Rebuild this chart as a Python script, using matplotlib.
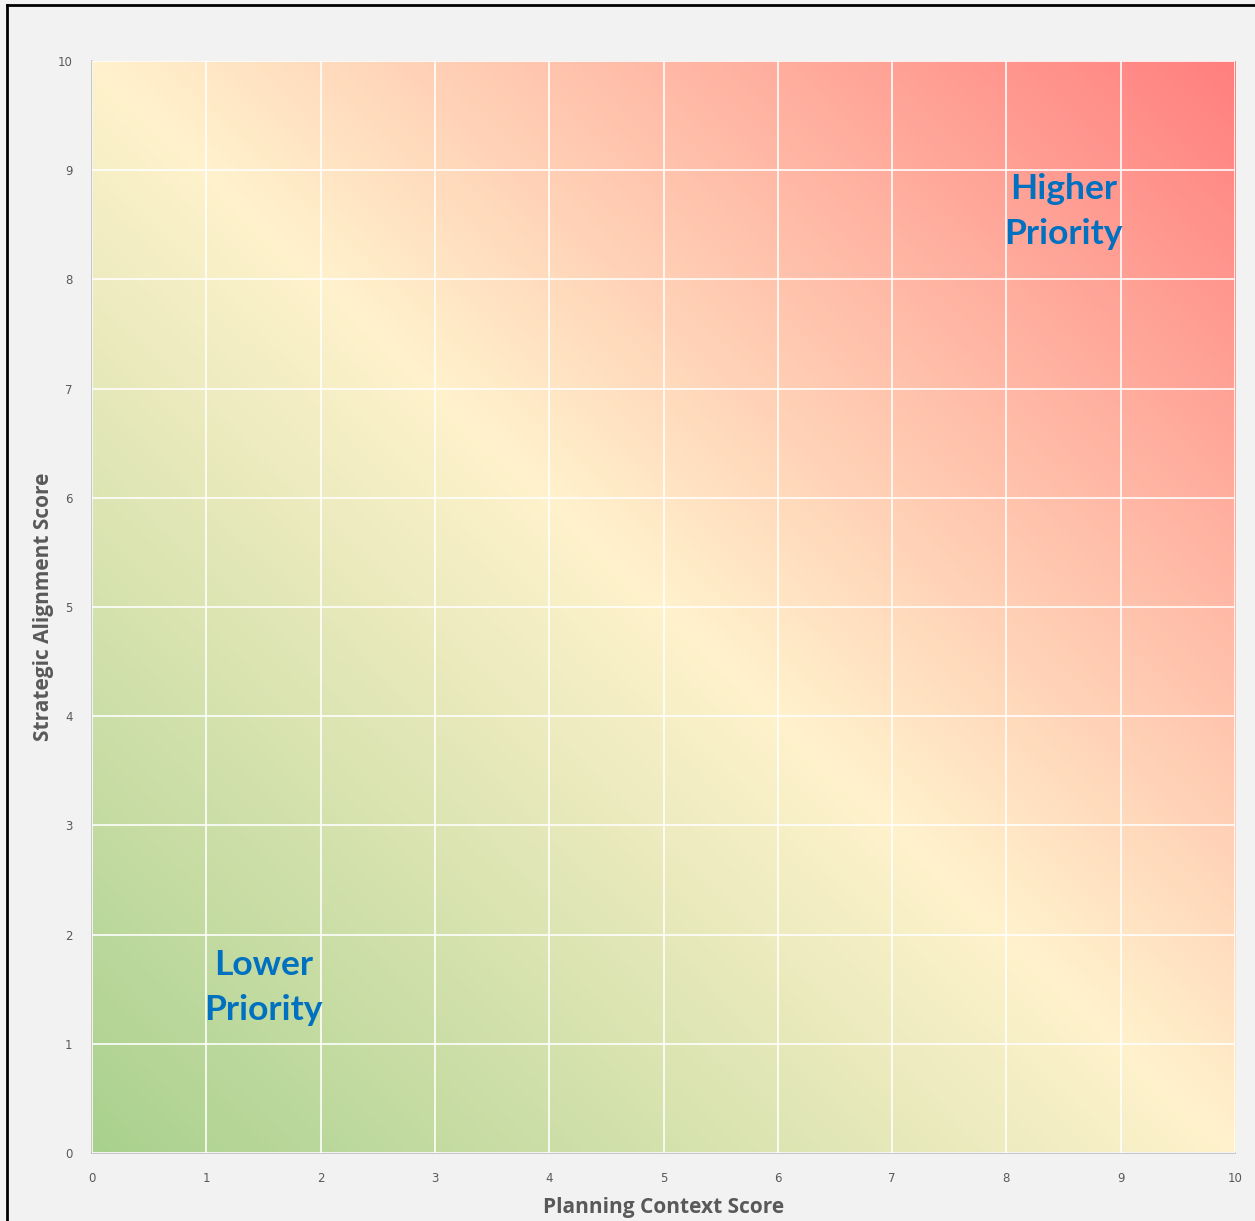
import matplotlib.pyplot as plt
import numpy as np
from matplotlib.colors import LinearSegmentedColormap
from matplotlib.lines import Line2D

# axis ranges and ticks
x_ticks = [0, 1, 2, 3, 4, 5, 6, 7, 8, 9, 10]
y_ticks = [0, 1, 2, 3, 4, 5, 6, 7, 8, 9, 10]
x_label = "Planning Context Score"
y_label = "Strategic Alignment Score"

# gradient stops (low -> mid -> high priority)
grad_colors = ["#A9D18E", "#FFF2CC", "#FF7F7F"]

# corner annotations
labels = ["Higher\nPriority", "Lower\nPriority"]
label_x = [8.5, 1.5]
label_y = [8.62, 1.52]

fig = plt.figure(figsize=(12.55, 12.21), dpi=100, facecolor="#F2F2F2")
ax = fig.add_axes([0.0733, 0.0557, 0.9108, 0.8943])
ax.set_facecolor("#F2F2F2")

cmap = LinearSegmentedColormap.from_list("prio", grad_colors)
gx, gy = np.meshgrid(np.linspace(0, 10, 400), np.linspace(0, 10, 400))
ax.imshow(gx + gy, cmap=cmap, origin="lower", extent=[0, 10, 0, 10],
          vmin=0, vmax=20, aspect="auto", interpolation="bilinear", zorder=0)

ax.set_xlim(0, 10)
ax.set_ylim(0, 10)
ax.set_xticks(x_ticks)
ax.set_yticks(y_ticks)
ax.grid(True, color="white", linewidth=1.3, alpha=0.9)
ax.set_axisbelow(False)
for s in ["top", "right"]:
    ax.spines[s].set_visible(False)
for s in ["bottom", "left"]:
    ax.spines[s].set_color("#BFBFBF")
    ax.spines[s].set_linewidth(1.2)
ax.tick_params(length=0, pad=14, labelsize=8.5, labelcolor="#595959")

ax.set_xlabel(x_label, fontsize=15, fontweight="bold", color="#595959",
              family=["Open Sans", "DejaVu Sans"], labelpad=8)
ax.set_ylabel(y_label, fontsize=15, fontweight="bold", color="#595959",
              family=["Open Sans", "DejaVu Sans"], labelpad=3)

for txt, tx, ty in zip(labels, label_x, label_y):
    ax.text(tx, ty, txt, ha="center", va="center", fontsize=25.5,
            fontweight="bold", color="#0070C0", linespacing=1.5,
            family=["Lato", "DejaVu Sans"])

# black frame on left and top edges
fig.add_artist(Line2D([0.0056, 0.0056], [0, 0.996], transform=fig.transFigure,
                      color="black", linewidth=2))
fig.add_artist(Line2D([0.0056, 1], [0.996, 0.996], transform=fig.transFigure,
                      color="black", linewidth=2))

fig.savefig("out.png", dpi=100, facecolor=fig.get_facecolor())
